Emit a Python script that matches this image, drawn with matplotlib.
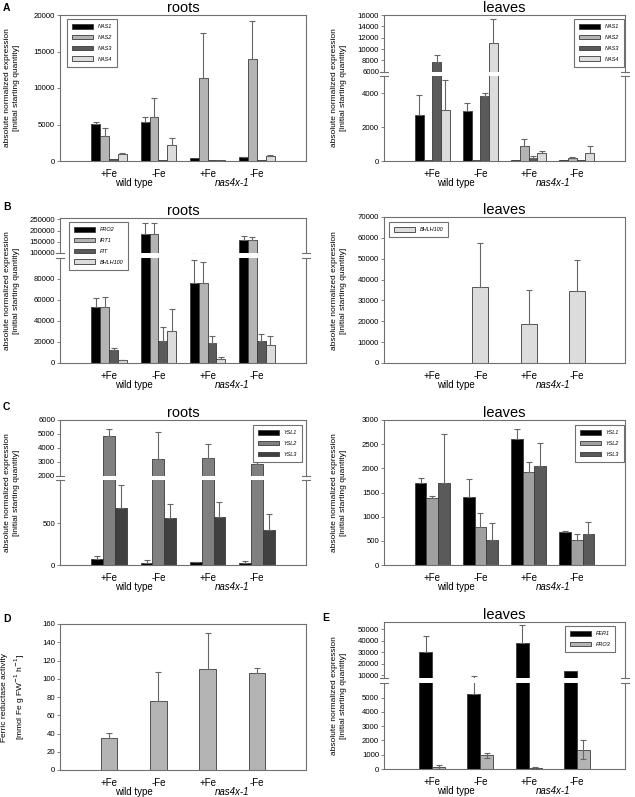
import numpy as np
import matplotlib.pyplot as plt
from matplotlib.lines import Line2D
from matplotlib.patches import Patch

plt.rcParams["font.family"] = ["Liberation Sans", "DejaVu Sans"]

treatments = ["+Fe", "-Fe", "+Fe", "-Fe"]
genotypes = ["wild type", "nas4x-1"]

# A: NAS genes (wt +Fe, wt -Fe, nas4x-1 +Fe, nas4x-1 -Fe)
nas_genes = ["NAS1", "NAS2", "NAS3", "NAS4"]
nas_roots = [[5020, 5340, 370, 500],
             [3420, 6030, 11320, 14020],
             [230, 90, 200, 80],
             [960, 2150, 130, 680]]
nas_roots_err = [[370, 640, 0, 90],
                 [1050, 2550, 6170, 5200],
                 [0, 0, 0, 0],
                 [90, 950, 0, 140]]
nas_leaves = [[2680, 2970, 80, 40],
              [30, 50, 870, 170],
              [7760, 3840, 190, 80],
              [3010, 11000, 450, 500]]
nas_leaves_err = [[1200, 450, 0, 0],
                  [0, 0, 450, 40],
                  [1180, 160, 100, 0],
                  [1750, 4240, 150, 370]]

# B: iron deficiency genes
fe_genes = ["FRO2", "IRT1", "FIT", "BHLH100"]
fe_roots = [[52600, 186000, 76200, 159000],
            [52600, 186000, 75600, 159000],
            [12000, 20800, 19200, 21100],
            [2800, 29900, 3800, 17000]]
fe_roots_err = [[9400, 46000, 21000, 17000],
                [10100, 46000, 20500, 14000],
                [2500, 12900, 6600, 6000],
                [300, 21400, 2200, 8500]]
bhlh_leaves = [[100, 36200, 18500, 34400]]
bhlh_leaves_err = [[0, 21100, 16700, 14900]]

# C: YSL genes
ysl_genes = ["YSL1", "YSL2", "YSL3"]
ysl_roots = [[71, 28, 36, 28],
             [4850, 3200, 3290, 2860],
             [679, 560, 575, 417]]
ysl_roots_err = [[32, 35, 4, 24],
                 [480, 1910, 960, 100],
                 [285, 166, 183, 190]]
ysl_leaves = [[1690, 1400, 2600, 690],
              [1390, 780, 1930, 525],
              [1690, 520, 2045, 640]]
ysl_leaves_err = [[100, 375, 220, 20],
                  [40, 295, 205, 120],
                  [1015, 350, 475, 260]]

# D: ferric reductase activity
fcr = [[34.7, 75.3, 110.3, 105.9]]
fcr_err = [[6.2, 31.7, 40.2, 6.2]]

# E: FER1 / FRO3 in leaves
e_genes = ["FER1", "FRO3"]
e_leaves = [[30400, 5230, 38300, 13500],
            [140, 950, 70, 1350]]
e_leaves_err = [[13700, 4200, 15500, 0],
                [150, 150, 80, 650]]

W, H = 635, 797
fig = plt.figure(figsize=(W / 100, H / 100), dpi=100)
FRAME = "#707070"
EDGE = "#3a3a3a"
YLABEL = "absolute normalized expression\n[initial starting quantity]"


def add_ax(x0, y0, x1, y1):
    return fig.add_axes([x0 / W, 1 - y1 / H, (x1 - x0) / W, (y1 - y0) / H])


def draw_bars(ax, means, errs, colors, width, two_sided):
    n = len(means)
    x = np.arange(1, 5)
    for i in range(n):
        pos = x + (i - (n - 1) / 2) * width
        m = np.array(means[i], dtype=float)
        e = np.array(errs[i], dtype=float)
        ax.bar(pos, m, width, color=colors[i], edgecolor=EDGE, linewidth=0.6, zorder=2)
        k = e > 0
        lo = e[k] if two_sided[i] else np.zeros(k.sum())
        ax.errorbar(pos[k], m[k], yerr=[lo, e[k]], fmt="none", ecolor="#666666",
                    elinewidth=0.8, capsize=2.5, capthick=0.8, zorder=3)


def style(ax, ylim, yticks, bottom=True, top=True):
    for s in ax.spines.values():
        s.set_color(FRAME)
        s.set_linewidth(0.8)
    ax.spines["bottom"].set_visible(bottom)
    ax.spines["top"].set_visible(top)
    ax.set_xlim(0, 5)
    ax.set_ylim(*ylim)
    ax.set_yticks(yticks)
    ax.tick_params(axis="y", labelsize=5.6, length=2, width=0.6, color=FRAME, pad=1.5)
    ax.tick_params(axis="x", length=0)
    if bottom:
        ax.set_xticks([1, 2, 3, 4], treatments, fontsize=7)
        ax.tick_params(axis="x", pad=5.5)
        for xg, g in zip([1.5, 3.5], genotypes):
            ax.annotate(g, xy=(xg, 0), xycoords=("data", "axes fraction"),
                        xytext=(0, -16), textcoords="offset points", ha="center",
                        va="center", fontsize=7,
                        style="italic" if g != "wild type" else "normal")
    else:
        ax.set_xticks([])


def panel(x0, x1, y0, y1, means, errs, colors, width, ylim, yticks,
          brk=None, title=None, two_sided=None):
    if two_sided is None:
        two_sided = [False] * len(means)
    if brk is None:
        ax = add_ax(x0, y0, x1, y1)
        draw_bars(ax, means, errs, colors, width, two_sided)
        style(ax, ylim, yticks)
        top = ax
    else:
        yb0, yb1, ylim_hi, yticks_hi = brk
        top = add_ax(x0, y0, x1, yb0)
        bot = add_ax(x0, yb1, x1, y1)
        for ax in (top, bot):
            draw_bars(ax, means, errs, colors, width, two_sided)
        style(top, ylim_hi, yticks_hi, bottom=False)
        style(bot, ylim, yticks, top=False)
        for xx in (x0, x1):
            for yy in (yb0, yb1):
                fig.add_artist(Line2D([(xx - 4) / W, (xx + 4) / W], [1 - yy / H] * 2,
                                      color=FRAME, lw=0.8))
    if title:
        top.set_title(title, fontsize=10.5, pad=2.2)
    return top


def legend(labels, colors, x, y):
    handles = [Patch(facecolor=c, edgecolor=EDGE, linewidth=0.6) for c in colors]
    leg = fig.legend(handles, labels, loc="upper left", bbox_to_anchor=(x / W, 1 - y / H),
                     prop={"size": 4, "style": "italic"}, frameon=True, fancybox=False,
                     edgecolor=FRAME, framealpha=1, handlelength=3.8, handleheight=0.9,
                     labelspacing=1.0, borderpad=0.9, borderaxespad=0, handletextpad=0.8)
    leg.get_frame().set_linewidth(0.8)


def ylabel(text, x, y):
    fig.text(x / W, 1 - y / H, text, rotation=90, ha="center", va="center",
             fontsize=6, linespacing=1.35)


LX = (60, 306)
RX = (384, 625)
four = ["#000000", "#b4b4b4", "#5a5a5a", "#dcdcdc"]

# row A
panel(*LX, 15, 161, nas_roots, nas_roots_err, four, 0.18, (0, 20000),
      range(0, 20001, 5000), title="roots")
legend(nas_genes, four, 67, 19)
panel(*RX, 15, 161, nas_leaves, nas_leaves_err, four, 0.18, (0, 5000),
      range(0, 4001, 2000), brk=(72, 76, (5950, 16000), range(6000, 16001, 2000)),
      title="leaves")
legend(nas_genes, four, 574, 19)

# row B
panel(*LX, 218, 363, fe_roots, fe_roots_err, four, 0.18, (0, 99500),
      range(0, 80001, 20000), brk=(253, 258, (99500, 256000), range(100000, 250001, 50000)),
      title="roots")
legend(fe_genes, four, 69, 222)
panel(*RX, 217, 363, bhlh_leaves, bhlh_leaves_err, ["#dcdcdc"], 0.33, (0, 70000),
      range(0, 70001, 10000), title="leaves")
legend(["BHLH100"], ["#dcdcdc"], 389, 222)

# row C
panel(*LX, 420, 565, ysl_roots, ysl_roots_err, ["#000000", "#808080", "#404040"], 0.24,
      (0, 1020), [0, 500], brk=(476, 480, (1980, 6000), range(2000, 6001, 1000)),
      title="roots")
legend(ysl_genes, ["#000000", "#808080", "#404040"], 253, 425)
panel(*RX, 420, 565, ysl_leaves, ysl_leaves_err, ["#000000", "#a0a0a0", "#5a5a5a"], 0.24,
      (0, 3000), range(0, 3001, 500), title="leaves")
legend(ysl_genes, ["#000000", "#a0a0a0", "#5a5a5a"], 575, 425)

# row D / E
panel(*LX, 624, 770, fcr, fcr_err, ["#b4b4b4"], 0.33, (0, 160), range(0, 161, 20))
panel(*RX, 622, 769, e_leaves, e_leaves_err, ["#000000", "#b4b4b4"], 0.27, (0, 6030),
      range(0, 5001, 1000), brk=(678, 683, (7400, 56400), range(10000, 50001, 10000)),
      title="leaves", two_sided=[False, True])
legend(e_genes, ["#000000", "#b4b4b4"], 565, 626)

for y0, y1 in [(15, 161), (218, 363), (420, 565), (622, 769)]:
    ylabel(YLABEL, 339, (y0 + y1) / 2)
for y0, y1 in [(15, 161), (218, 363), (420, 565)]:
    ylabel(YLABEL, 12, (y0 + y1) / 2)
ylabel("Ferric reductase activity\n[mmol Fe g FW$^{-1}$ h$^{-1}$]", 14, 697)

for letter, x, y in [("A", 3, 3), ("B", 3, 202), ("C", 3, 402), ("D", 3, 614), ("E", 322, 613)]:
    fig.text(x / W, 1 - y / H, letter, fontsize=7.5, fontweight="bold", va="top", ha="left")

fig.savefig("out.png", dpi=100)
